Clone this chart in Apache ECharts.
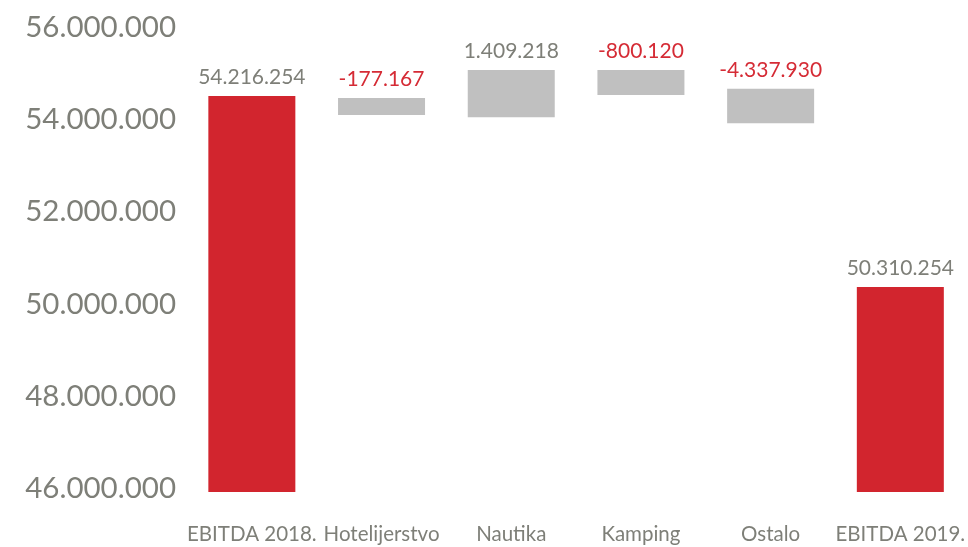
<!DOCTYPE html>
<html>
<head>
<meta charset="utf-8">
<script src="https://cdn.jsdelivr.net/npm/echarts@6/dist/echarts.min.js"></script>
<style>
html,body{margin:0;padding:0;background:#fff;}
#chart{width:968px;height:547px;}
</style>
</head>
<body>
<div id="chart"></div>
<script>
// Categories
const categories = ['EBITDA 2018.', 'Hotelijerstvo', 'Nautika', 'Kamping', 'Ostalo', 'EBITDA 2019.'];
// Value labels printed above the bars
const valueLabels = ['54.216.254', '-177.167', '1.409.218', '-800.120', '-4.337.930', '50.310.254'];
// Bar extents as drawn in the picture (bottom / top), totals start at the axis
const barBottoms = [0, 54178000, 54128000, 54612000, 53998000, 0];
const barTops = [54590000, 54547000, 55154000, 55154000, 54748000, 50447000];
// Which bars are totals
const isTotal = [true, false, false, false, false, true];
// Y axis tick labels
const yTickValues = [46000000, 48000000, 50000000, 52000000, 54000000, 56000000];
const yTickLabels = ['46.000.000', '48.000.000', '50.000.000', '52.000.000', '54.000.000', '56.000.000'];

const RED = '#D2252E';
const RED_TEXT = '#D52B35';
const GRAY_BAR = '#C0C0C0';
const TEXT_GRAY = '#7e7f78';
const FONT = 'Lato';

const baseData = barBottoms.map(v => v);
const visData = barTops.map((t, i) => ({
  value: t - barBottoms[i],
  itemStyle: { color: isTotal[i] ? RED : GRAY_BAR },
  label: { color: valueLabels[i].charAt(0) === '-' ? RED_TEXT : TEXT_GRAY }
}));

const chart = echarts.init(document.getElementById('chart'), null, { renderer: 'canvas' });
chart.setOption({
  animation: false,
  backgroundColor: '#ffffff',
  grid: { left: 187, right: 1, top: 31, bottom: 55, containLabel: false },
  xAxis: {
    type: 'category',
    data: categories,
    axisLine: { show: false },
    axisTick: { show: false },
    axisLabel: { interval: 0, color: TEXT_GRAY, fontFamily: FONT, fontSize: 20.5, margin: 32 }
  },
  yAxis: {
    type: 'value',
    min: 46000000,
    max: 56000000,
    interval: 2000000,
    axisLine: { show: false },
    axisTick: { show: false },
    splitLine: { show: false },
    axisLabel: {
      color: TEXT_GRAY, fontFamily: FONT, fontSize: 29.5, margin: 11,
      verticalAlign: 'bottom', lineHeight: 7,
      formatter: function (v) {
        const idx = yTickValues.indexOf(v);
        return idx >= 0 ? yTickLabels[idx] : '';
      }
    }
  },
  series: [
    {
      type: 'bar', stack: 'w', barWidth: 87, silent: true,
      itemStyle: { color: 'transparent' },
      data: baseData
    },
    {
      type: 'bar', stack: 'w', barWidth: 87,
      data: visData,
      label: {
        show: true, position: 'top', distance: 8,
        fontFamily: FONT, fontSize: 21,
        formatter: function (p) { return valueLabels[p.dataIndex]; }
      }
    }
  ]
});
</script>
</body>
</html>
